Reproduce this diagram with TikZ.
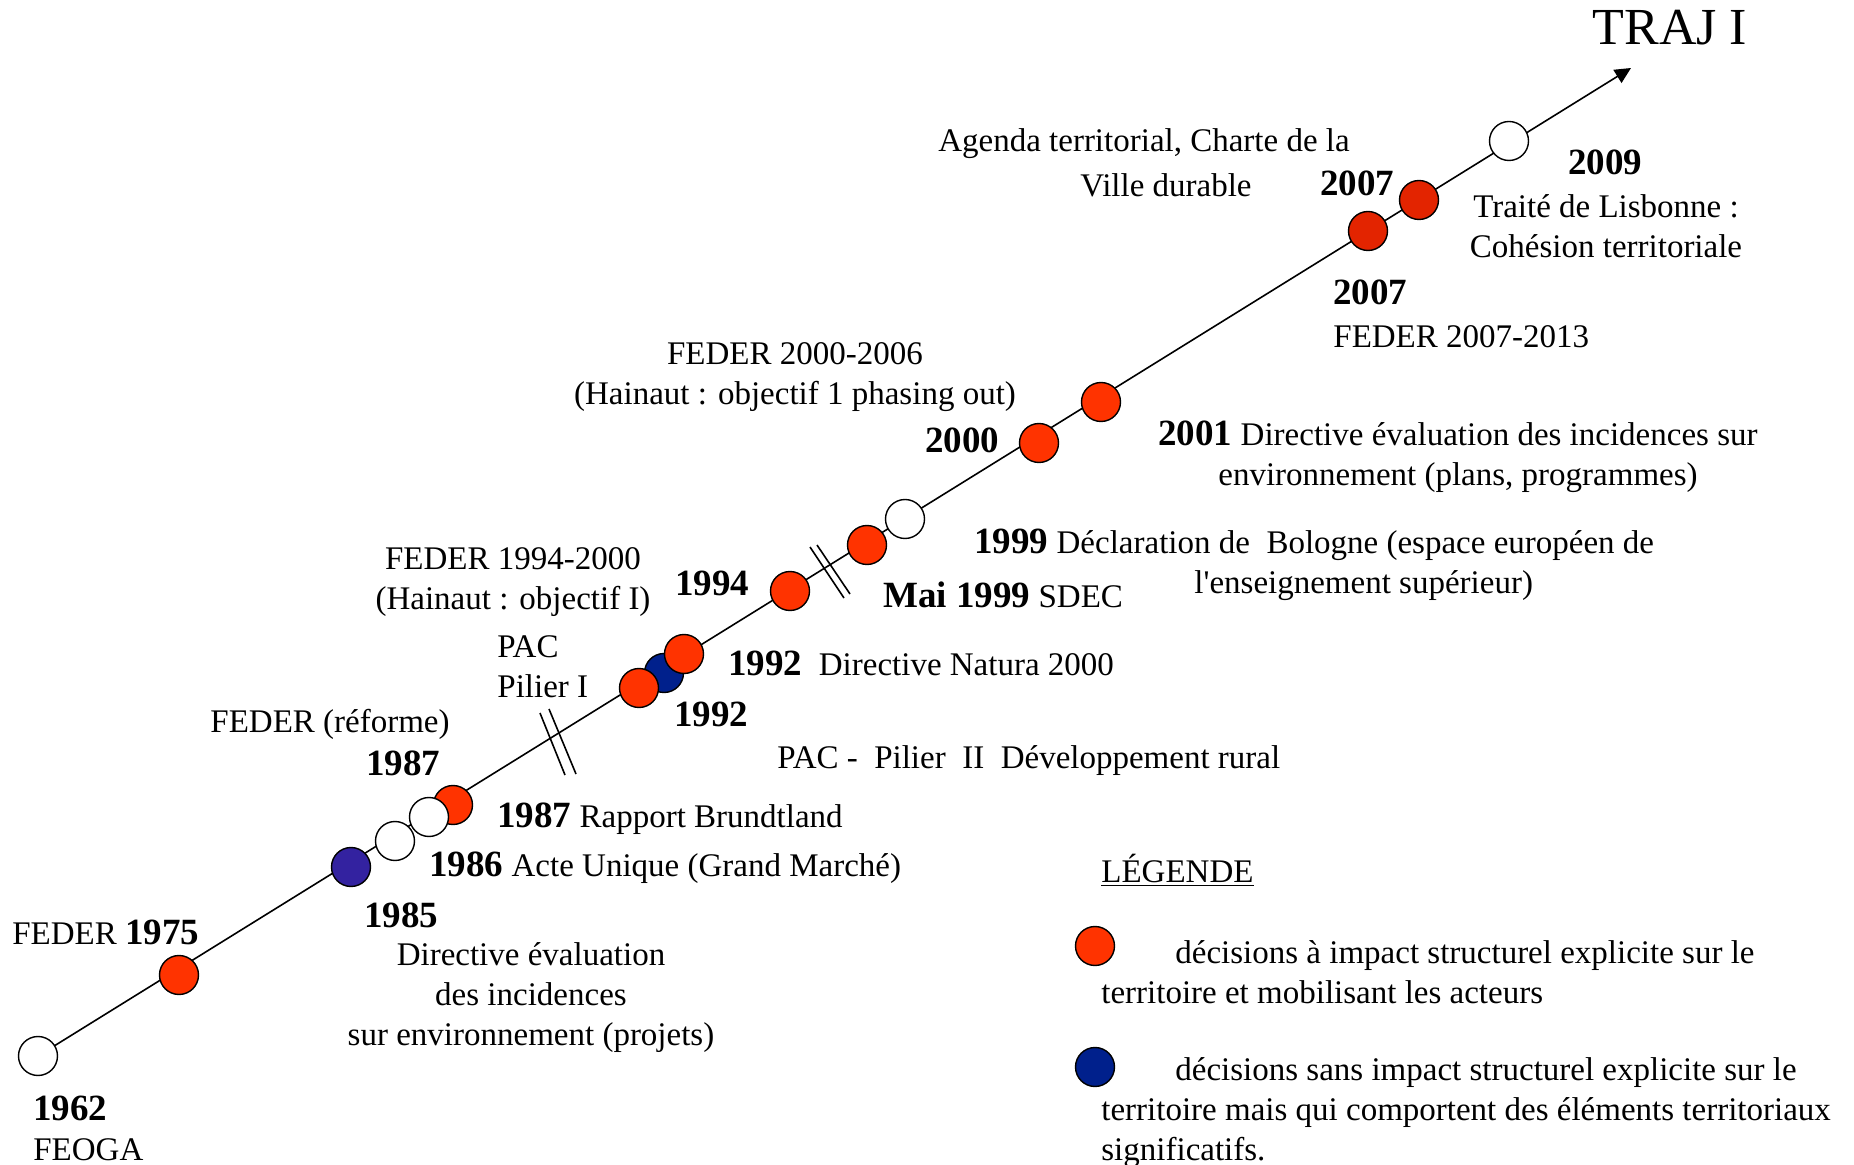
\documentclass[tikz,border=0pt]{standalone}
\usepackage{fontspec}
\setmainfont{Liberation Serif}
\usepackage{tikz}
\usetikzlibrary{arrows.meta,backgrounds}
\definecolor{evred}{HTML}{FF3300}
\definecolor{evdark}{HTML}{E32400}
\definecolor{evblue}{HTML}{3322A0}
\definecolor{evnavy}{HTML}{00208C}
\tikzset{
  evt/.style = {circle, draw, line width=0.7pt, minimum size=19.5pt, inner sep=0pt},
  lbl/.style = {inner sep=0pt, font=\fontsize{16.5}{20}\selectfont},
}
\newcommand{\yr}[1]{{\fontsize{18.5}{20}\selectfont\bfseries #1}}

\begin{document}
\begin{tikzpicture}[x=0.5pt, y=-0.5pt]
        \useasboundingbox (0,0) rectangle (1854,1165);
        \def\tlwidth{0.8pt}

        \node(c62) [evt, fill=white] at (38,1056) {};
        \node(c75) [evt, fill=evred] at (179,975) {};
        \node(c85) [evt, fill=evblue] at (351,867) {};
        \node(c86) [evt, fill=white] at (395,841) {};
        \node(c87) [evt, fill=evred] at (453,805) {};
        \node(c87w) [evt, fill=white] at (429,817) {};
        \node(c92b) [evt, fill=evnavy] at (664,673) {};
        \node(c92a) [evt, fill=evred] at (639,688) {};
        \node(c92n) [evt, fill=evred] at (684,654) {};
        \node(c94) [evt, fill=evred] at (790,591) {};
        \node(c99m) [evt, fill=evred] at (867,545) {};
        \node(c99) [evt, fill=white] at (905,519) {};
        \node(c00) [evt, fill=evred] at (1039,443) {};
        \node(c01) [evt, fill=evred] at (1101,402) {};
        \node(c07a) [evt, fill=evdark] at (1368,231) {};
        \node(c07b) [evt, fill=evdark] at (1419,200) {};
        \node(c09) [evt, fill=white] at (1509,141) {};
        \coordinate(tip) at (1631,68);

        \begin{scope}[on background layer]
            \draw [line width=\tlwidth, -{Triangle[length=8pt, width=7.6pt]}] (c62.center) -- (tip);
        \end{scope}

        \draw [line width=\tlwidth] (540,713) -- (565,775) (549,709) -- (576,774);
        \draw [line width=\tlwidth] (810,547) -- (844,598) (817,545) -- (850,594);

        \node(traj) [lbl, font=\fontsize{26}{30}\selectfont] at (1670,28) {TRAJ I};
        \node(agenda) [lbl, align=center] at (1144,163) {Agenda territorial, Charte de la\\[2.5pt]\hspace*{22pt}Ville durable};
        \node(y07b) [lbl] at (1357,183) {\yr{2007}};
        \node(y09) [lbl] at (1605,162) {\yr{2009}};
        \node(lisbonne) [lbl, align=center] at (1606,226) {Traité de Lisbonne :\\Cohésion territoriale};
        \node(y07a) [lbl] at (1370,292) {\yr{2007}};
        \node(feder0713) [lbl, anchor=west] at (1333,337) {FEDER 2007-2013};
        \node(feder0006) [lbl, align=center] at (795,377) {FEDER 2000-2006\\(Hainaut : objectif 1 phasing out)};
        \node(y00) [lbl] at (962,440) {\yr{2000}};
        \node(dir01) [lbl, align=center] at (1458,457) {\yr{2001} Directive évaluation des incidences sur\\environnement (plans, programmes)};
        \node(bologne) [lbl, align=left, anchor=west] at (974,565) {\yr{1999} Déclaration de\ \ Bologne (espace européen de\\\hspace*{110pt}l\textquotesingle enseignement supérieur)};
        \node(y94) [lbl] at (712,583) {\yr{1994}};
        \node(sdec) [lbl, anchor=west] at (883,595) {\yr{Mai 1999} SDEC};
        \node(feder9400) [lbl, align=center] at (513,582) {FEDER 1994-2000\\(Hainaut : objectif I)};
        \node(pac1) [lbl, align=left, anchor=west] at (497,667) {PAC\\Pilier I};
        \node(natura) [lbl, anchor=west] at (728,663) {\yr{1992}\ \ Directive Natura 2000};
        \node(y92) [lbl] at (711,714) {\yr{1992}};
        \node(pac2) [lbl, anchor=west] at (777,761) {PAC -\ \ Pilier\ \ II\ \ Développement rural};
        \node(federref) [lbl] at (330,724) {FEDER (réforme)};
        \node(y87) [lbl] at (403,763) {\yr{1987}};
        \node(brundt) [lbl, anchor=west] at (497,819) {\yr{1987} Rapport Brundtland};
        \node(acte) [lbl, anchor=west] at (429,868) {\yr{1986} Acte Unique (Grand Marché)};
        \node(y85) [lbl] at (401,915) {\yr{1985}};
        \node(dir85) [lbl, align=center] at (531,998) {Directive évaluation\\des incidences\\sur environnement (projets)};
        \node(feder75) [lbl, anchor=west] at (12,932) {FEDER \yr{1975}};
        \node(feoga) [lbl, align=left, anchor=west] at (33,1128) {\yr{1962}\\FEOGA};

        \node(legende) [lbl, anchor=west] at (1101,870) {\underline{LÉGENDE}};
        \node(lred) [evt, fill=evred] at (1095,946) {};
        \node(lblue) [evt, fill=evnavy] at (1095,1067) {};
        \node(lredtxt) [lbl, align=left, anchor=west] at (1101,972) {\hspace*{37pt}décisions à impact structurel explicite sur le\\territoire et mobilisant les acteurs};
        \node(lbluetxt) [lbl, align=left, anchor=west] at (1101,1113) {\hspace*{37pt}décisions sans impact structurel explicite sur le\\territoire mais qui comportent des éléments territoriaux\\significatifs.};
    \end{tikzpicture}
\end{document}
